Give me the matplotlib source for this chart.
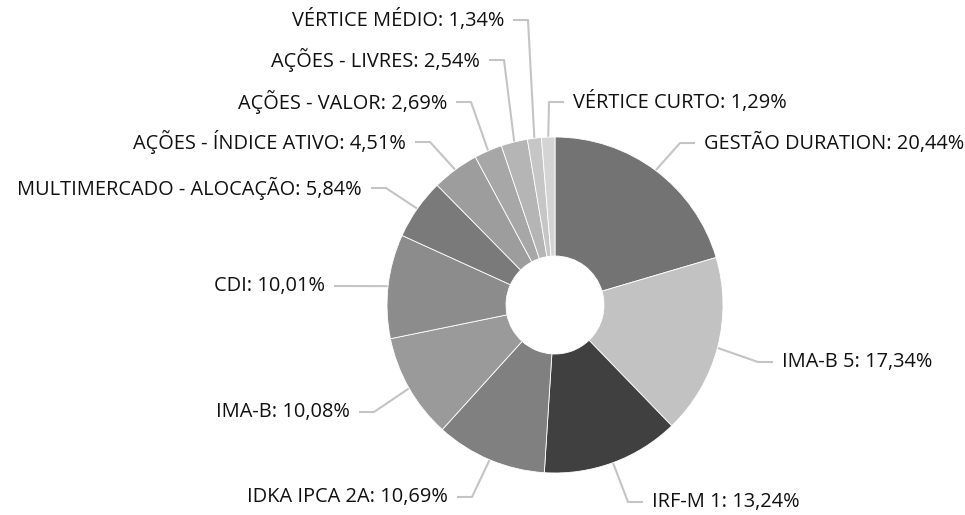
import numpy as np
import matplotlib.pyplot as plt

labels = ['GESTÃO DURATION', 'IMA-B 5', 'IRF-M 1', 'IDKA IPCA 2A', 'IMA-B', 'CDI',
          'MULTIMERCADO - ALOCAÇÃO', 'AÇÕES - ÍNDICE ATIVO', 'AÇÕES - VALOR',
          'AÇÕES - LIVRES', 'VÉRTICE MÉDIO', 'VÉRTICE CURTO']
values = [20.44, 17.34, 13.24, 10.69, 10.08, 10.01, 5.84, 4.51, 2.69, 2.54, 1.34, 1.29]
colors = ['#737373', '#c2c2c2', '#404040', '#808080', '#9a9a9a', '#8c8c8c',
          '#7a7a7a', '#9d9d9d', '#a7a7a7', '#b5b5b5', '#c6c6c6', '#d4d4d4']

# label anchor positions in pixels (x = text start on right side, text end on left side)
label_x = [704, 782, 652, 448, 350, 325, 362, 406, 447, 480, 504, 573]
label_y = [143, 362, 502, 497, 412, 286, 188, 142, 102, 60, 20, 102]

W, H = 965, 515
cx, cy = 555, H - 305
R, r_in = 168, 49

plt.rcParams['font.family'] = ['Open Sans', 'DejaVu Sans']

fig = plt.figure(figsize=(W / 100, H / 100), dpi=100)
ax = fig.add_axes([0, 0, 1, 1])

wedges, _ = ax.pie(values, colors=colors, startangle=90, counterclock=False,
                   center=(cx, cy), radius=R,
                   wedgeprops=dict(width=R - r_in, edgecolor='white', linewidth=0.6))

gap, horiz = 9, 15
for w, name, v, lx, ly in zip(wedges, labels, values, label_x, label_y):
    mid = np.deg2rad((w.theta1 + w.theta2) / 2)
    ex, ey = cx + R * np.cos(mid), cy + R * np.sin(mid)
    ty = H - ly
    txt = '%s: %s%%' % (name, ('%.2f' % v).replace('.', ','))
    if lx > cx:
        xs = [ex, lx - gap - horiz, lx - gap]
        ha = 'left'
    else:
        xs = [ex, lx + gap + horiz, lx + gap]
        ha = 'right'
    ax.plot(xs, [ey, ty, ty], color='#c4c4c4', lw=1.5, solid_capstyle='butt', zorder=0)
    ax.text(lx, ty, txt, ha=ha, va='center', fontsize=14.4, color='#111111')

ax.set_xlim(0, W)
ax.set_ylim(0, H)
ax.set_aspect('equal')
ax.axis('off')

fig.savefig('out.png', dpi=100)
